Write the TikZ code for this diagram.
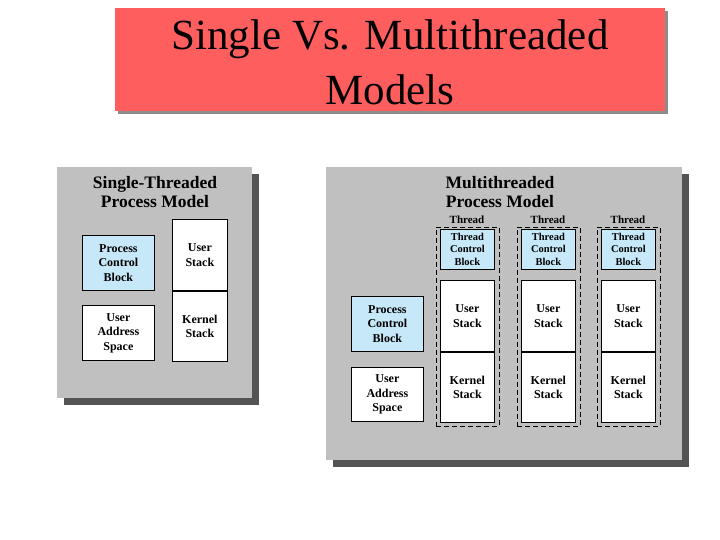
\documentclass[tikz,border=0pt]{standalone}
\usepackage{fontspec}
\setmainfont{Liberation Serif}
\definecolor{slidered}{HTML}{FF5E5E}
\definecolor{panelgrey}{HTML}{C0C0C0}
\definecolor{dropgrey}{HTML}{545454}
\definecolor{blockblue}{HTML}{C6E8F8}
\tikzset{
  cellbox/.style={draw=black, line width=0.8pt, fill=white, inner sep=0pt, anchor=north west,
                  align=center, font=\fontsize{12}{14.5}\selectfont\bfseries},
  bluebox/.style={cellbox, fill=blockblue},
  heading/.style={align=center, inner sep=0pt, font=\fontsize{17.5}{19}\selectfont\bfseries},
  threadframe/.style={draw=black, line width=0.9pt, dash pattern=on 5pt off 3pt, inner sep=0pt, anchor=north west},
}

\begin{document}
\begin{tikzpicture}[x=1pt, y=-1pt]
  \useasboundingbox (0,0) rectangle (720,540);
  \fill[white] (0,0) rectangle (720,540);
  % title bar
  \fill[black!45] (118,11) rectangle (668,114);
  \fill[slidered] (115,8) rectangle (665,111);
  \node[align=center, inner sep=0pt, font=\fontsize{43}{55}\selectfont] (title) at (390,62) {Single Vs. Multithreaded\\Models};
  % the two panels and their drop shadows
  \fill[dropgrey] (64,174) rectangle (259,405);
  \fill[panelgrey] (57,167) rectangle (252,398);
  \fill[dropgrey] (333,174) rectangle (689,467);
  \fill[panelgrey] (326,167) rectangle (682,460);

  % single-threaded
  \node[heading] (singlehead) at (155,192) {Single-Threaded\\Process Model};
  \node[bluebox, minimum width=72, minimum height=55] (pcbS) at (82,235) {Process\\Control\\Block};
  \node[cellbox, minimum width=72, minimum height=55] (uasS) at (82,305) {User\\Address\\Space};
  \node[cellbox, minimum width=55, minimum height=71] (ustackS) at (172,219) {User\\Stack};
  \node[cellbox, minimum width=55, minimum height=70] (kstackS) at (ustackS.south west) {Kernel\\Stack};

  % multithreaded
  \node[heading] (multihead) at (500,192) {Multithreaded\\Process Model};
  \node[bluebox, minimum width=72, minimum height=55] (pcbM) at (351,296) {Process\\Control\\Block};
  \node[cellbox, minimum width=72, minimum height=54] (uasM) at (351,367) {User\\Address\\Space};
  \foreach \i/\x in {1/440,2/521,3/601}{
    \node[threadframe, minimum width=63, minimum height=199] (frame\i) at (\x-4,227) {};
    \node[anchor=base, font=\fontsize{11}{13}\selectfont\bfseries] (label\i) at (\x+27,223) {Thread};
    \node[bluebox, minimum width=54, minimum height=40, font=\fontsize{10.5}{12.5}\selectfont\bfseries] (tcb\i) at (\x,229) {Thread\\Control\\Block};
    \node[cellbox, minimum width=54, minimum height=71] (ustack\i) at (\x,280) {User\\Stack};
    \node[cellbox, minimum width=54, minimum height=70] (kstack\i) at (ustack\i.south west) {Kernel\\Stack};
  }
\end{tikzpicture}
\end{document}
